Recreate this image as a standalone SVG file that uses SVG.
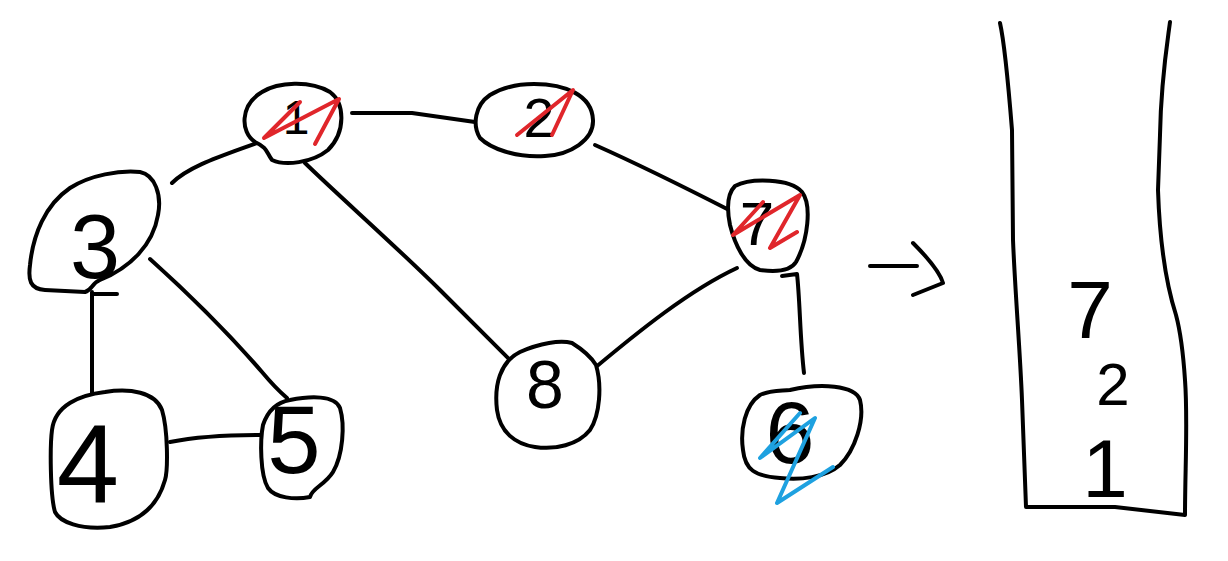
<svg xmlns="http://www.w3.org/2000/svg" width="1228" height="561" viewBox="0 0 1228 561">
<style>
.ln{fill:none;stroke:#000;stroke-width:4;stroke-linecap:round;stroke-linejoin:round}
.nd{fill:#fff;stroke:#000;stroke-width:4;stroke-linejoin:round}
.lb{font-family:"Liberation Sans",Arial,sans-serif;fill:#000;text-anchor:middle}
.red{fill:none;stroke:#e0262b;stroke-width:4;stroke-linecap:round;stroke-linejoin:round}
.blue{fill:none;stroke:#1ea1e0;stroke-width:4;stroke-linecap:round;stroke-linejoin:round}
</style>
<rect width="1228" height="561" fill="#fff"/>
<g id="connectors">
<path class="ln" d="M352,113 L412,113 L475,122"/>
<path class="ln" d="M172,183 C190,165 225,155 265,140"/>
<path class="ln" d="M305,163 C340,197 400,250 440,290 C470,320 495,345 515,365"/>
<path class="ln" d="M595,145 C640,165 690,190 733,212"/>
<path class="ln" d="M737,268 C690,290 640,330 590,372"/>
<path class="ln" d="M782,276 L797,274 C800,300 800,340 804,373"/>
<path class="ln" d="M150,259 C190,295 230,335 262,372 C272,384 280,392 287,398"/>
<path class="ln" d="M92,292 L92,393 M92,294 L117,294"/>
<path class="ln" d="M170,442 C200,436 230,435 260,435"/>
</g>
<g id="node-1">
<path class="nd" d="M262,92 C278,82 310,80 330,92 C345,103 346,132 328,150 C312,163 285,166 272,160 C266,152 268,148 255,142 C240,132 240,105 262,92 Z"/>
<text class="lb" x="296" y="134" font-size="48">1</text>
<path class="red" d="M300,102 L264,138 L339,99 L315,144"/>
</g>
<g id="node-2">
<path class="nd" d="M534,84 C565,84 592,95 593,120 C594,140 570,155 545,156 C515,158 490,148 480,138 C472,125 475,105 490,95 C505,86 520,84 534,84 Z"/>
<text class="lb" x="539" y="137" font-size="56">2</text>
<path class="red" d="M517,135 L573,90 L552,135"/>
</g>
<g id="node-7">
<path class="nd" d="M735,186 C750,178 790,178 802,192 C812,205 808,240 796,262 C790,272 775,272 760,270 C745,266 735,245 730,225 C727,210 726,195 735,186 Z"/>
<text class="lb" x="757" y="245" font-size="62">7</text>
<path class="red" d="M763,202 L733,235 L800,195 L770,248 L797,232"/>
</g>
<g id="node-3">
<path class="nd" d="M140,172 C155,175 162,195 158,215 C153,245 130,268 100,280 C92,283 92,290 85,292 L45,290 C30,289 28,280 30,265 C33,235 45,205 70,188 C90,175 120,170 140,172 Z"/>
<text class="lb" x="95" y="278" font-size="90">3</text>
</g>
<g id="node-4">
<path class="nd" d="M105,392 C130,388 155,392 162,410 C168,430 168,470 165,480 C158,505 140,522 110,527 C80,530 60,522 55,512 C50,495 50,445 52,430 C55,405 80,395 105,392 Z"/>
<text class="lb" x="88" y="502" font-size="112">4</text>
</g>
<g id="node-5">
<path class="nd" d="M290,400 C310,396 335,395 340,408 C345,425 343,455 333,472 C325,485 312,488 310,497 C295,500 275,498 268,488 C260,475 260,440 263,425 C268,410 278,402 290,400 Z"/>
<text class="lb" x="294" y="473" font-size="96">5</text>
</g>
<g id="node-8">
<path class="nd" d="M520,352 C540,343 560,340 572,343 C580,348 590,355 596,365 C602,385 600,415 590,430 C578,445 555,450 535,447 C515,444 500,432 497,410 C494,385 500,362 520,352 Z"/>
<text class="lb" x="545" y="408" font-size="68">8</text>
</g>
<g id="node-6">
<path class="nd" d="M790,390 C820,383 855,385 860,400 C865,420 855,450 840,465 C825,478 800,480 780,478 C755,476 745,470 743,450 C740,430 745,405 760,395 C770,390 780,391 790,390 Z"/>
<text class="lb" x="790" y="463" font-size="88">6</text>
<path class="blue" d="M800,413 L760,458 L815,418 L777,503 L833,467"/>
</g>
<g id="arrow">
<path class="ln" d="M870,266 L917,266 M913,243 C928,258 940,273 943,283 L913,295"/>
</g>
<g id="stack">
<path class="ln" d="M1000,23 C1005,45 1008,80 1012,130 L1013,240 C1015,290 1020,350 1022,400 L1026,507 L1115,507 L1185,515 C1185,470 1188,420 1185,380 C1183,350 1180,330 1176,315 C1168,290 1160,250 1158,190 L1160,135 C1161,80 1167,45 1170,22"/>
<text class="lb" x="1090" y="338" font-size="82">7</text>
<text class="lb" x="1113" y="405" font-size="60">2</text>
<text class="lb" x="1105" y="497" font-size="82">1</text>
</g>
</svg>
